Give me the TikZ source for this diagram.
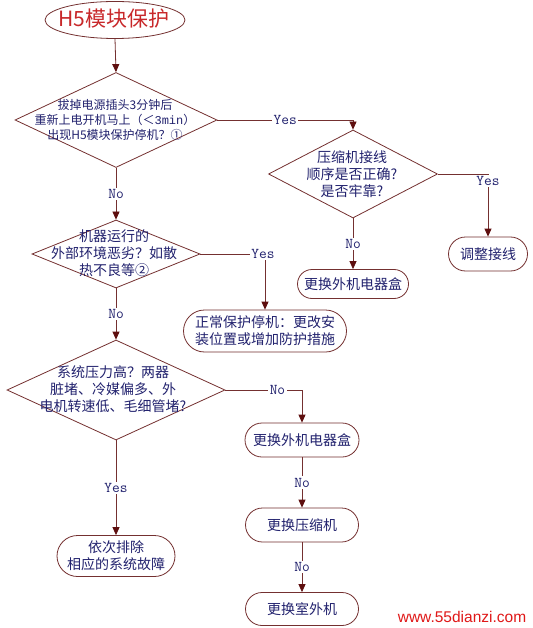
\documentclass[tikz,border=0pt]{standalone}
\usepackage{fontspec}
\newfontfamily\cjk{Noto Sans CJK SC}
\newfontfamily\monof{Liberation Mono}
\newfontfamily\wmfont{Liberation Sans}
\usetikzlibrary{shapes.geometric,shapes.misc,arrows.meta}
\definecolor{linec}{HTML}{743030}
\definecolor{arrowc}{HTML}{5E0E0E}
\definecolor{textc}{HTML}{22226E}
\definecolor{titlec}{HTML}{C8282A}
\definecolor{wmc}{HTML}{E01818}
\tikzset{
  dia/.style={diamond,draw=linec,line width=0.8pt,inner sep=0pt},
  txt/.style={text=textc,align=center,font=\cjk\fontsize{14}{17}\selectfont,inner sep=0pt},
  rbox/.style={rounded rectangle,draw=linec,line width=0.8pt,inner sep=0pt,text=textc,align=center,font=\cjk\fontsize{14}{17}\selectfont},
  lbl/.style={font=\ttfamily\fontsize{15}{15}\selectfont,text=textc,fill=white,inner sep=1.5pt},
  arr/.style={draw=linec,line width=0.8pt,-{Triangle[width=7pt,length=8pt,fill=arrowc,color=arrowc]}}
}
\begin{document}
\begin{tikzpicture}[x=1pt,y=-1pt]
\useasboundingbox[fill=white] (0,0) rectangle (532,628);
% start
\node[ellipse,draw=linec,line width=0.8pt,inner sep=0pt,minimum width=140pt,minimum height=37pt] (start) at (115,20) {};
\node[text=titlec,font=\cjk\fontsize{21}{21}\selectfont,inner sep=0pt] (title) at (114,19) {H5模块保护};
% diamonds
\node[dia,minimum width=202pt,minimum height=95pt] (d1) at (116,120) {};
\node[txt,font=\cjk\fontsize{12}{15}\selectfont] (t1) at (115,120) {拔掉电源插头3分钟后\\重新上电开机马上（＜{\monof 3min}）\\出现H5模块保护停机？①};
\node[dia,minimum width=168pt,minimum height=68pt] (d2) at (116,254) {};
\node[txt] (t2) at (114,253) {机器运行的\\外部环境恶劣？如散\\热不良等②};
\node[dia,minimum width=169pt,minimum height=88pt] (d3) at (353,174) {};
\node[txt] (t3) at (352,174) {压缩机接线\\顺序是否正确?\\是否牢靠?};
\node[dia,minimum width=218pt,minimum height=100pt] (d4) at (116,390) {};
\node[txt] (t4) at (113,389) {系统压力高？两器\\脏堵、冷媒偏多、外\\电机转速低、毛细管堵?};
% boxes
\node[rbox,minimum width=79pt,minimum height=34pt] (bA) at (488,254) {调整接线};
\node[rbox,minimum width=111pt,minimum height=29pt] (bB) at (353,284) {更换外机电器盒};
\node[rbox,minimum width=163pt,minimum height=42pt] (bC) at (265,331) {正常保护停机：更改安\\装位置或增加防护措施};
\node[rbox,minimum width=114pt,minimum height=34pt] (bD) at (302,440) {更换外机电器盒};
\node[rbox,minimum width=113pt,minimum height=34pt] (bE) at (302,525) {更换压缩机};
\node[rbox,minimum width=113pt,minimum height=33pt] (bF) at (302,609) {更换室外机};
\node[rbox,minimum width=118pt,minimum height=41pt] (bG) at (116,556) {依次排除\\相应的系统故障};
% connectors
\draw[arr] (start.south) -- (d1.north);
\draw[arr] (d1.south) -- node[lbl]{No} (d2.north);
\draw[arr] (d1.east) -- node[lbl]{Yes} (d1.east -| d3.north) -- (d3.north);
\draw[arr] (d3.east) -| node[lbl,pos=0.5,yshift=-7pt]{Yes} (bA.north);
\draw[arr] (d3.south) -- node[lbl]{No} (bB.north);
\draw[arr] (d2.east) -| node[lbl,pos=0.5,xshift=-2pt]{Yes} (bC.north);
\draw[arr] (d2.south) -- node[lbl]{No} (d4.north);
\draw[arr] (d4.east) -| node[lbl,pos=0.34]{No} (bD.north);
\draw[arr] (d4.south) -- node[lbl]{Yes} (bG.north);
\draw[arr] (bD.south) -- node[lbl]{No} (bE.north);
\draw[arr] (bE.south) -- node[lbl]{No} (bF.north);
% watermark
\node[text=wmc,font=\wmfont\fontsize{15.5}{15.5}\selectfont,inner sep=0pt] (wm) at (462,617) {www.55dianzi.com};
\end{tikzpicture}
\end{document}
